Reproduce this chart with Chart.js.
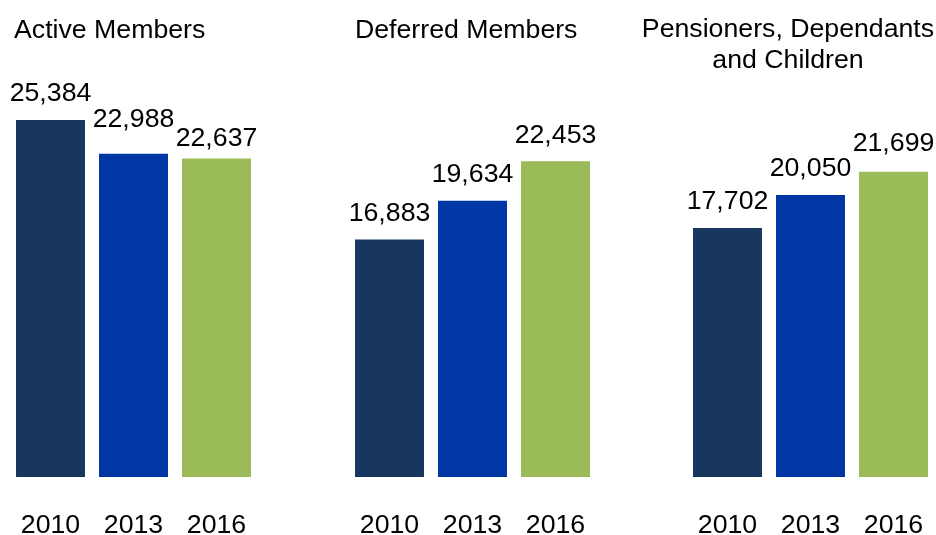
<!DOCTYPE html>
<html>
<head>
<meta charset="utf-8">
<script src="https://cdn.jsdelivr.net/npm/chart.js@4/dist/chart.umd.min.js"></script>
<style>
  html, body { margin: 0; padding: 0; background: #fff; overflow: hidden; }
  body { width: 936px; height: 535px; position: relative; font-family: "Liberation Sans", Arial, sans-serif; }
  .panel { position: absolute; top: 0; width: 360px; height: 535px; }
  .panel canvas { position: absolute; top: 0; left: 0; }
  .ttl { position: absolute; font-size: 26.7px; line-height: 31px; color: #000; white-space: nowrap; text-align: center; }
</style>
</head>
<body>
<div class="panel" style="left:-41px"><canvas id="c0"></canvas></div>
<div class="panel" style="left:297.5px"><canvas id="c1"></canvas></div>
<div class="panel" style="left:635.5px"><canvas id="c2"></canvas></div>

<div class="ttl" style="left:14px; top:14px; text-align:left;">Active Members</div>
<div class="ttl" style="left:355px; top:14px; text-align:left;">Deferred Members</div>
<div class="ttl" style="left:638px; top:13px; width:300px;">Pensioners, Dependants<br>and Children</div>

<script>
// chart data
const years = ['2010', '2013', '2016'];
const activeMembers = [25384, 22988, 22637];
const deferredMembers = [16883, 19634, 22453];
const pensioners = [17702, 20050, 21699];

const barColors = ['#17375e', '#0037a5', '#9bbb59'];
const FONT = '"Liberation Sans", Arial, sans-serif';
const FSIZE = 26.7;

// value labels above each bar
const valueLabels = {
    id: 'valueLabels',
    afterDatasetsDraw(chart, args, opts) {
        const ctx = chart.ctx;
        const meta = chart.getDatasetMeta(0);
        const vals = chart.data.datasets[0].data;
        const nudge = opts.nudge || [0, 0, 0];
        ctx.save();
        ctx.font = FSIZE + 'px ' + FONT;
        ctx.fillStyle = '#000';
        ctx.textAlign = 'center';
        ctx.textBaseline = 'middle';
        meta.data.forEach((bar, i) => {
            ctx.fillText(vals[i].toLocaleString('en-US'), bar.x, bar.y - 26 + nudge[i]);
        });
        ctx.restore();
    }
};

function makeChart(id, values, nudge) {
    return new Chart(document.getElementById(id), {
        type: 'bar',
        data: {
            labels: years,
            datasets: [{ data: values, backgroundColor: barColors, borderWidth: 0,
                         barPercentage: 0.831, categoryPercentage: 1 }]
        },
        options: {
            responsive: false,
            animation: false,
            events: [],
            layout: { padding: { left: 50, right: 61, top: 55, bottom: 0 } },
            plugins: {
                legend: { display: false },
                title: { display: false },
                tooltip: { enabled: false },
                valueLabels: { nudge: nudge }
            },
            scales: {
                x: {
                    grid: { display: false, drawTicks: false },
                    border: { display: false },
                    ticks: { color: '#000', padding: 35, font: { family: FONT, size: FSIZE, lineHeight: 1 } },
                    afterFit: s => { s.height = 58; }
                },
                y: { display: false, min: 0, max: 30000 }
            }
        },
        plugins: [valueLabels]
    });
}

function sizeCanvas(id) {
    const c = document.getElementById(id);
    c.width = 360; c.height = 535;
    c.style.width = '360px'; c.style.height = '535px';
}
['c0', 'c1', 'c2'].forEach(sizeCanvas);

makeChart('c0', activeMembers, [0, -8, 6]);
makeChart('c1', deferredMembers, [0, 0, 0]);
makeChart('c2', pensioners, [0, 0, -2]);
</script>
</body>
</html>
